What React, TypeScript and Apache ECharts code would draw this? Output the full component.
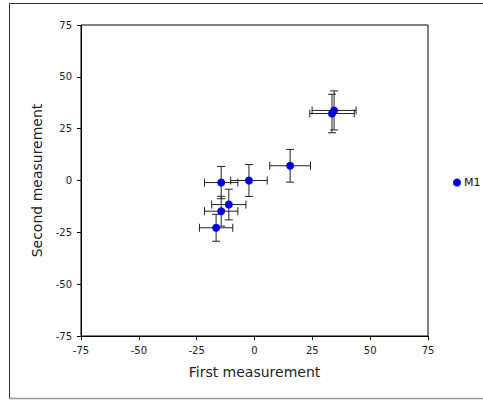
import React, { useEffect, useRef } from "react";
import * as echarts from "echarts";

const xValues = [34.4, 33.5, 15.4, -2.4, -14.4, -11.1, -14.4, -16.6];
const yValues = [33.8, 32.3, 7.1, 0, -1.0, -11.6, -14.8, -22.8];
const xErrors = [9.5, 9.6, 8.8, 7.9, 7.2, 7.4, 7.2, 7.2];
const yErrors = [9.4, 9.3, 7.9, 7.7, 7.8, 7.4, 7.2, 6.5];
const seriesName = "M1";
const axisTicks = [-75, -50, -25, 0, 25, 50, 75];

export default function App() {
  const ref = useRef<HTMLDivElement>(null);
  useEffect(() => {
    if (!ref.current) return;
    const chart = echarts.init(ref.current, undefined, { renderer: "svg" });
    const points = xValues.map((x, i) => [x, yValues[i]]);
    const errData = xValues.map((x, i) => [x, yValues[i], xErrors[i], yErrors[i]]);
    const font = "DejaVu Sans";
    const cap = 4;
    chart.setOption({
      animation: false,
      graphic: [
        { type: "line", shape: { x1: 9.5, y1: 3.5, x2: 483, y2: 3.5 }, style: { stroke: "#333", lineWidth: 1 } },
        { type: "line", shape: { x1: 9.5, y1: 3.5, x2: 9.5, y2: 398.5 }, style: { stroke: "#333", lineWidth: 1 } },
        { type: "line", shape: { x1: 9.5, y1: 398.5, x2: 483, y2: 398.5 }, style: { stroke: "#999", lineWidth: 1.5 } },
      ],
      legend: {
        data: [{ name: seriesName, icon: "circle" }],
        orient: "vertical",
        left: 448,
        top: 172,
        itemWidth: 8,
        itemHeight: 8,
        itemGap: 4,
        textStyle: { fontFamily: font, fontSize: 11, color: "#111", padding: [0, 0, 0, -2] },
      },
      grid: {
        left: 81,
        right: 55,
        top: 25,
        bottom: 64,
        show: true,
        borderColor: "#000",
        borderWidth: 1,
        backgroundColor: "transparent",
      },
      xAxis: {
        type: "value",
        min: axisTicks[0],
        max: axisTicks[axisTicks.length - 1],
        interval: 25,
        name: "First measurement",
        nameLocation: "middle",
        nameGap: 29,
        nameTextStyle: { fontFamily: font, fontSize: 14, color: "#222" },
        axisLine: { show: true, onZero: false, lineStyle: { color: "#000", width: 1 } },
        axisTick: { show: true, length: 4, lineStyle: { color: "#000" } },
        axisLabel: { fontFamily: font, fontSize: 10, color: "#222", margin: 9 },
        splitLine: { show: false },
      },
      yAxis: {
        type: "value",
        min: axisTicks[0],
        max: axisTicks[axisTicks.length - 1],
        interval: 25,
        name: "Second measurement",
        nameLocation: "middle",
        nameGap: 37,
        nameTextStyle: { fontFamily: font, fontSize: 14, color: "#222" },
        axisLine: { show: true, onZero: false, lineStyle: { color: "#000", width: 1 } },
        axisTick: { show: true, length: 4, lineStyle: { color: "#000" } },
        axisLabel: { fontFamily: font, fontSize: 10, color: "#222", margin: 9 },
        splitLine: { show: false },
      },
      series: [
        {
          type: "custom",
          name: "errors",
          data: errData,
          z: 1,
          renderItem: (params: any, api: any) => {
            const x = api.value(0);
            const y = api.value(1);
            const ex = api.value(2);
            const ey = api.value(3);
            const pl = api.coord([x - ex, y]);
            const pr = api.coord([x + ex, y]);
            const pt = api.coord([x, y + ey]);
            const pb = api.coord([x, y - ey]);
            const style = { stroke: "#222", lineWidth: 1 };
            return {
              type: "group",
              children: [
                { type: "line", shape: { x1: pl[0], y1: pl[1], x2: pr[0], y2: pr[1] }, style },
                { type: "line", shape: { x1: pl[0], y1: pl[1] - cap, x2: pl[0], y2: pl[1] + cap }, style },
                { type: "line", shape: { x1: pr[0], y1: pr[1] - cap, x2: pr[0], y2: pr[1] + cap }, style },
                { type: "line", shape: { x1: pt[0], y1: pt[1], x2: pb[0], y2: pb[1] }, style },
                { type: "line", shape: { x1: pt[0] - cap, y1: pt[1], x2: pt[0] + cap, y2: pt[1] }, style },
                { type: "line", shape: { x1: pb[0] - cap, y1: pb[1], x2: pb[0] + cap, y2: pb[1] }, style },
              ],
            };
          },
        },
        {
          type: "scatter",
          name: seriesName,
          data: points,
          symbol: "circle",
          symbolSize: 8,
          z: 2,
          itemStyle: { color: "#0000dd", opacity: 1 },
        },
      ],
    });
    return () => chart.dispose();
  }, []);
  return <div ref={ref} style={{ width: 483, height: 400, position: "absolute", left: 0, top: 0 }} />;
}
